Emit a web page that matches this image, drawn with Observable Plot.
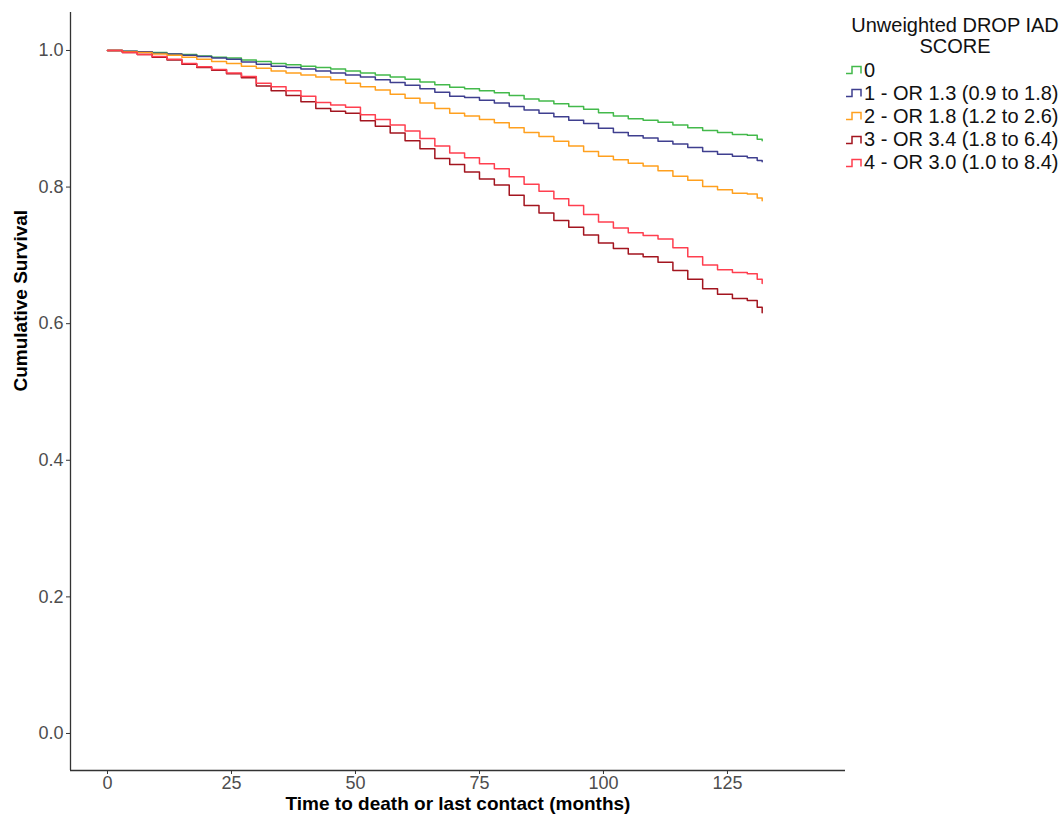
<!DOCTYPE html>
<html>
<head>
<meta charset="utf-8">
<script src="https://cdn.jsdelivr.net/npm/d3@7"></script>
<script src="https://cdn.jsdelivr.net/npm/@observablehq/plot@0.6"></script>
<style>
  html, body { margin: 0; padding: 0; background: #fff; }
  #wrap { position: relative; width: 1063px; height: 821px; font-family: "Liberation Sans", Arial, sans-serif; }
  #legend { position: absolute; left: 845px; top: 14.5px; width: 218px; color: #111; font-size: 20px; }
  #legend .title { text-align: center; line-height: 21px; margin-bottom: 2px; padding-left: 2px; }
  #legend .item { display: flex; align-items: center; height: 23.2px; white-space: nowrap; }
  #legend svg { margin-right: 0px; flex: none; }
</style>
</head>
<body>
<div id="wrap"><div id="legend"></div></div>
<script>
// ---- data ----
const legendTitle = ["Unweighted DROP IAD", "SCORE"];
const groups = ["0", "1 - OR 1.3 (0.9 to 1.8)", "2 - OR 1.8 (1.2 to 2.6)", "3 - OR 3.4 (1.8 to 6.4)", "4 - OR 3.0 (1.0 to 8.4)"];
const colors = ["#43b94b", "#3f3f8f", "#ffa01e", "#a3151f", "#ff3f4f"];

const times = [0,3,6,9,12,15,18,21,24,27,30,33,36,39,42,45,48,51,54,57,60,63,66,69,72,75,78,81,84,87,90,93,96,99,102,105,108,111,114,117,120,123,126,129,131,132];

const surv0 = [1.000,0.999,0.998,0.997,0.995,0.994,0.992,0.990,0.989,0.986,0.984,0.981,0.979,0.977,0.975,0.973,0.970,0.967,0.964,0.961,0.958,0.954,0.950,0.946,0.944,0.941,0.938,0.934,0.929,0.926,0.922,0.918,0.914,0.909,0.904,0.900,0.898,0.895,0.891,0.887,0.883,0.880,0.877,0.876,0.870,0.868];
const surv1 = [1.000,0.999,0.998,0.996,0.995,0.993,0.991,0.989,0.987,0.983,0.980,0.977,0.975,0.973,0.970,0.967,0.964,0.961,0.957,0.953,0.949,0.944,0.939,0.933,0.931,0.927,0.923,0.918,0.913,0.908,0.903,0.898,0.893,0.886,0.880,0.875,0.872,0.867,0.863,0.858,0.852,0.848,0.845,0.843,0.839,0.837];
const surv2 = [1.000,0.998,0.997,0.995,0.993,0.990,0.987,0.984,0.981,0.977,0.974,0.970,0.967,0.964,0.961,0.957,0.952,0.947,0.942,0.936,0.930,0.923,0.915,0.908,0.904,0.899,0.894,0.887,0.880,0.874,0.867,0.860,0.852,0.845,0.840,0.835,0.831,0.824,0.816,0.810,0.801,0.796,0.791,0.790,0.784,0.780];
const surv3 = [1.000,0.997,0.994,0.990,0.986,0.980,0.975,0.971,0.966,0.960,0.948,0.941,0.934,0.925,0.915,0.911,0.908,0.897,0.889,0.879,0.868,0.856,0.842,0.833,0.822,0.812,0.803,0.788,0.773,0.762,0.751,0.741,0.730,0.718,0.710,0.702,0.698,0.690,0.678,0.665,0.651,0.643,0.637,0.634,0.624,0.616];
const surv4 = [1.000,0.997,0.994,0.991,0.987,0.981,0.976,0.972,0.967,0.962,0.952,0.947,0.941,0.933,0.924,0.920,0.917,0.906,0.899,0.891,0.882,0.871,0.860,0.850,0.843,0.834,0.827,0.815,0.804,0.794,0.783,0.773,0.760,0.749,0.740,0.733,0.729,0.724,0.711,0.698,0.686,0.679,0.675,0.673,0.665,0.659];

const xTicks = [0, 25, 50, 75, 100, 125];
const yTicks = [0, 0.2, 0.4, 0.6, 0.8, 1.0];
const xDomain = [-7.46, 148.8];
const yDomain = [-0.0542, 1.0556];
const xTitle = "Time to death or last contact (months)";
const yTitle = "Cumulative Survival";

// ---- build table ----
const series = [surv0, surv1, surv2, surv3, surv4];
const rows = series.flatMap((s, i) => times.map((t, j) => ({t, s: s[j], g: groups[i]})));

const chart = Plot.plot({
  width: 1063,
  height: 821,
  marginLeft: 70,
  marginRight: 218,
  marginTop: 12,
  marginBottom: 51,
  style: {fontFamily: "'Liberation Sans', Arial, sans-serif", fontSize: "18px", color: "#4d4d4d", background: "white"},
  x: {domain: xDomain},
  y: {domain: yDomain},
  color: {domain: groups, range: colors},
  marks: [
    Plot.axisX({ticks: xTicks, tickSize: 4, tickPadding: 2, label: null, stroke: "#333", fill: "#4d4d4d"}),
    Plot.axisY({ticks: yTicks, tickSize: 4, tickPadding: 3, tickFormat: d3.format(".1f"), label: null, stroke: "#333", fill: "#4d4d4d"}),
    Plot.ruleX([xDomain[0]], {stroke: "#333", strokeWidth: 1.3}),
    Plot.ruleY([yDomain[0]], {stroke: "#333", strokeWidth: 1.3}),
    Plot.line(rows, {x: "t", y: "s", z: "g", stroke: "g", curve: "step-after", strokeWidth: 1.5}),
    Plot.text([yTitle], {frameAnchor: "left", dx: -50, rotate: -90, fontWeight: "bold", fontSize: 19, fill: "black"}),
    Plot.text([xTitle], {frameAnchor: "bottom", dy: 39, fontWeight: "bold", fontSize: 19, fill: "black"})
  ]
});
document.getElementById("wrap").prepend(chart);

// ---- legend ----
const leg = document.getElementById("legend");
const ttl = document.createElement("div");
ttl.className = "title";
ttl.innerHTML = legendTitle.join("<br>");
leg.appendChild(ttl);
groups.forEach((g, i) => {
  const it = document.createElement("div");
  it.className = "item";
  it.innerHTML = `<svg width="19" height="10" viewBox="0 0 19 10"><path d="M1,8.5H7V1.5H16V8.5" fill="none" stroke="${colors[i]}" stroke-width="1.5"/></svg><span>${g}</span>`;
  leg.appendChild(it);
});
</script>
</body>
</html>
